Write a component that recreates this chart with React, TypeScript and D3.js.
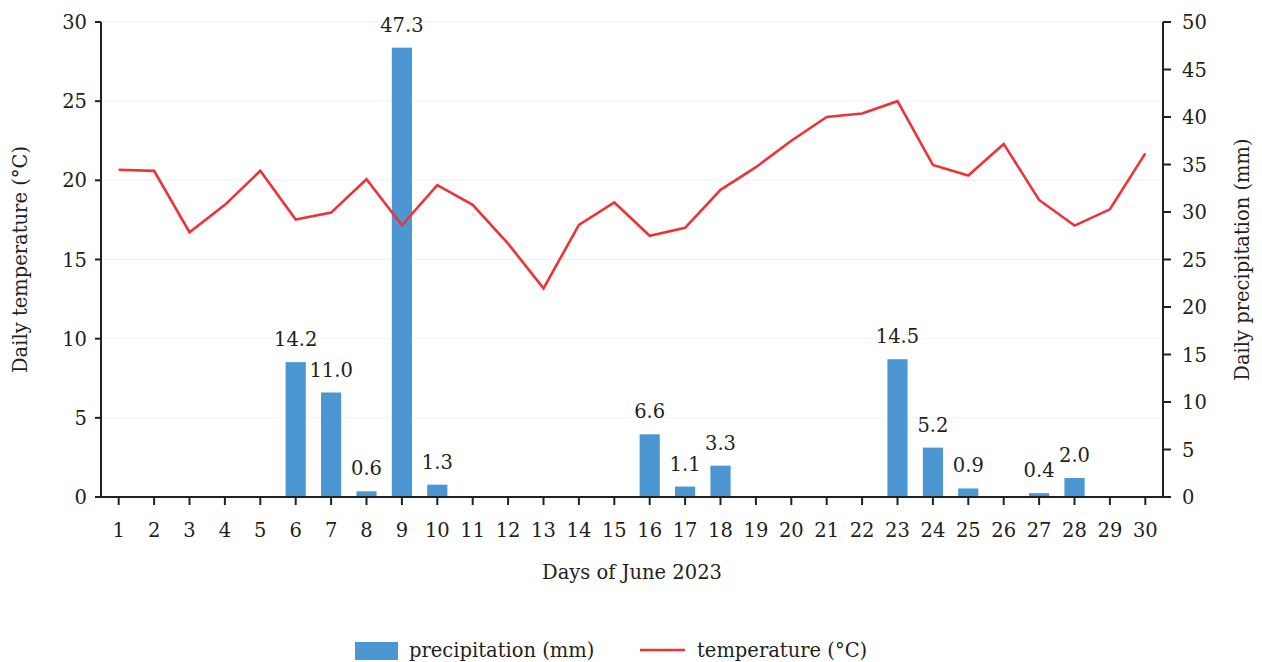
import React from "react";
import * as d3 from "d3";

// Daily weather, June 2023
const days = d3.range(1, 31).map(String);
const temperature = [
  20.67, 20.6, 16.72, 18.45, 20.6, 17.52, 17.96, 20.07, 17.16, 19.7,
  18.45, 16.0, 13.18, 17.18, 18.6, 16.5, 17.0, 19.4, 20.83, 22.5,
  24.0, 24.22, 25.0, 20.97, 20.3, 22.3, 18.76, 17.14, 18.17, 21.7,
];
const precipitation = [
  0, 0, 0, 0, 0, 14.2, 11.0, 0.6, 47.3, 1.3,
  0, 0, 0, 0, 0, 6.6, 1.1, 3.3, 0, 0,
  0, 0, 14.5, 5.2, 0.9, 0, 0.4, 2.0, 0, 0,
];
const tempTicks = [0, 5, 10, 15, 20, 25, 30];
const precipTicks = [0, 5, 10, 15, 20, 25, 30, 35, 40, 45, 50];

const W = 1262;
const H = 662;
const left = 101;
const right = 1163;
const top = 22;
const bottom = 497;
const FONT = "'DejaVu Serif', serif";
const FS = 19.5;
const BLUE = "#4c97d2";
const RED = "#ee3338";
const INK = "#231f20";

export default function App() {
  const x = d3.scaleBand<string>().domain(days).range([left, right]).paddingInner(0.43).paddingOuter(0.215);
  const xc = (d: string) => (x(d) as number) + x.bandwidth() / 2;
  const yT = d3.scaleLinear().domain([0, 30]).range([bottom, top]);
  const yP = d3.scaleLinear().domain([0, 50]).range([bottom, top]);

  const line = d3
    .line<number>()
    .x((_, i) => xc(days[i]))
    .y((v) => yT(v));

  return (
    <svg
      width={W}
      height={H}
      style={{ position: "absolute", left: 0, top: 0, background: "#fff" }}
      fontFamily={FONT}
    >
      {/* faint horizontal grid */}
      {tempTicks.slice(1).map((t) => (
        <line key={"g" + t} x1={left} x2={right} y1={yT(t)} y2={yT(t)} stroke="#f3f3f3" strokeWidth={1} />
      ))}

      {/* precipitation bars */}
      {precipitation.map((v, i) =>
        v > 0 ? (
          <rect
            key={"b" + i}
            x={x(days[i])}
            y={yP(v)}
            width={x.bandwidth()}
            height={bottom - yP(v)}
            fill={BLUE}
          />
        ) : null
      )}

      {/* temperature line */}
      <path d={line(temperature) || ""} fill="none" stroke={RED} strokeWidth={2.6} strokeLinejoin="miter" />

      {/* bar value labels */}
      {precipitation.map((v, i) =>
        v > 0 ? (
          <text key={"l" + i} x={xc(days[i])} y={yP(v) - 16} textAnchor="middle" fontSize={FS} fill={INK}>
            {v.toFixed(1)}
          </text>
        ) : null
      )}

      {/* left axis */}
      <line x1={left} x2={left} y1={top} y2={bottom} stroke={INK} strokeWidth={2} />
      {tempTicks.map((t) => (
        <g key={"lt" + t}>
          <line x1={left - 6} x2={left} y1={yT(t)} y2={yT(t)} stroke={INK} strokeWidth={2} />
          <text x={left - 14} y={yT(t)} dy="0.36em" textAnchor="end" fontSize={FS} fill={INK}>
            {t}
          </text>
        </g>
      ))}

      {/* right axis */}
      <line x1={right} x2={right} y1={top} y2={bottom} stroke={INK} strokeWidth={2} />
      {precipTicks.map((t) => (
        <g key={"rt" + t}>
          <line x1={right} x2={right + 8} y1={yP(t)} y2={yP(t)} stroke={INK} strokeWidth={2} />
          <text x={right + 19} y={yP(t)} dy="0.36em" textAnchor="start" fontSize={FS} fill={INK}>
            {t}
          </text>
        </g>
      ))}

      {/* bottom axis */}
      <line x1={left - 6} x2={right} y1={bottom} y2={bottom} stroke={INK} strokeWidth={2} />
      {days.map((d) => (
        <g key={"bt" + d}>
          <line x1={xc(d)} x2={xc(d)} y1={bottom} y2={bottom + 8} stroke={INK} strokeWidth={2} />
          <text x={xc(d)} y={bottom + 40} textAnchor="middle" fontSize={FS} fill={INK}>
            {d}
          </text>
        </g>
      ))}

      {/* axis titles */}
      <text x={(left + right) / 2} y={579} textAnchor="middle" fontSize={FS} fill={INK}>
        Days of June 2023
      </text>
      <text
        transform={`translate(27,${(top + bottom) / 2}) rotate(-90)`}
        textAnchor="middle"
        fontSize={FS}
        fill={INK}
      >
        Daily temperature (°C)
      </text>
      <text
        transform={`translate(1249,${(top + bottom) / 2}) rotate(-90)`}
        textAnchor="middle"
        fontSize={FS}
        fill={INK}
      >
        Daily precipitation (mm)
      </text>

      {/* legend */}
      <rect x={355} y={642} width={43} height={18} fill={BLUE} />
      <text x={409} y={657} fontSize={FS} fill={INK}>
        precipitation (mm)
      </text>
      <line x1={640} x2={685} y1={650} y2={650} stroke={RED} strokeWidth={2.4} />
      <text x={697} y={657} fontSize={FS} fill={INK}>
        temperature (°C)
      </text>
    </svg>
  );
}
